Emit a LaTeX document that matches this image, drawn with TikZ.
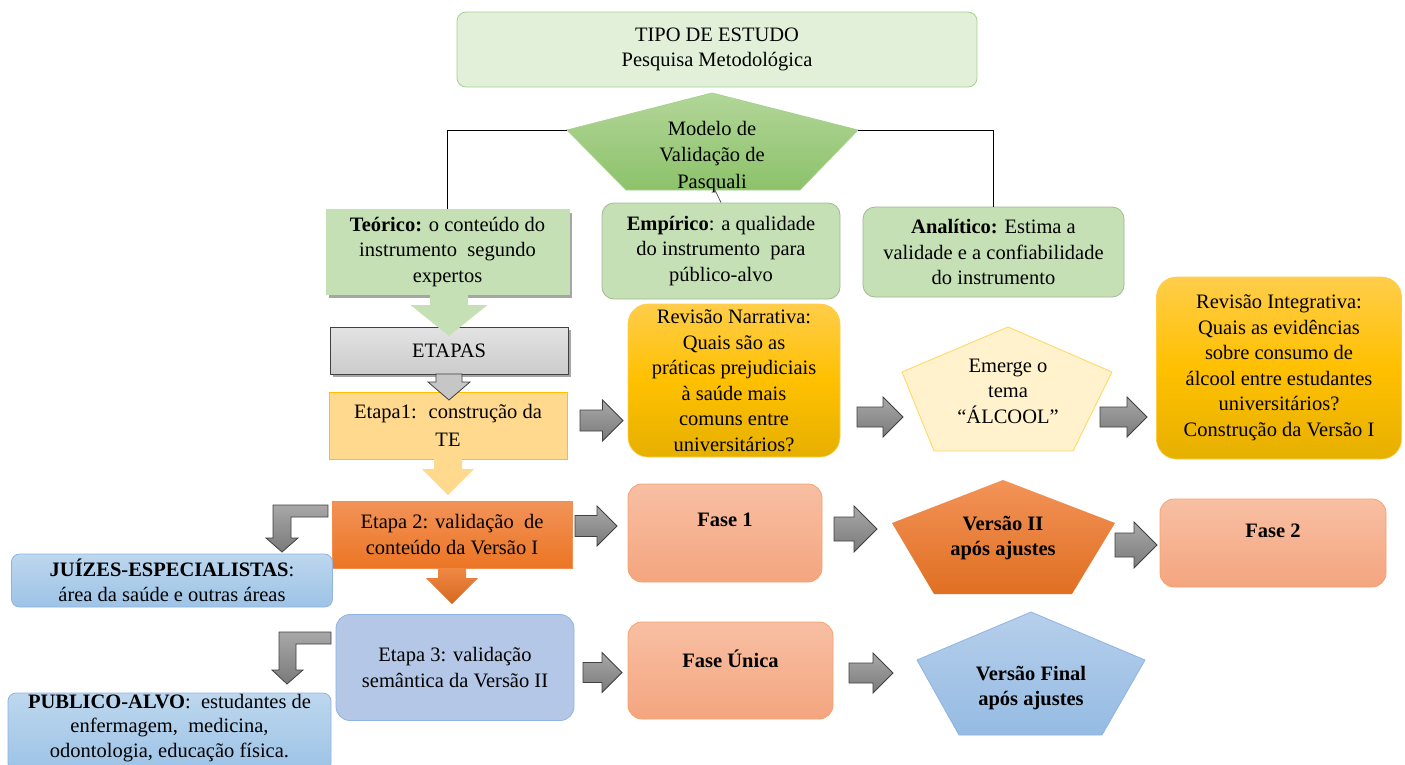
\documentclass[tikz,border=0pt]{standalone}
\usepackage{fontspec}
\setmainfont{Liberation Serif}
\usetikzlibrary{shadows}
\definecolor{tipoF}{HTML}{E2F0D9}
\definecolor{tipoD}{HTML}{A9D18E}
\definecolor{gF}{HTML}{C5E0B4}
\definecolor{gD}{HTML}{A3B896}
\definecolor{pgT}{HTML}{B2D698}
\definecolor{pgB}{HTML}{8CC26A}
\definecolor{yF}{HTML}{FFD98E}
\definecolor{yD}{HTML}{FFC000}
\definecolor{oT}{HTML}{F29358}
\definecolor{oB}{HTML}{EC7524}
\definecolor{bF}{HTML}{B4C7E7}
\definecolor{bD}{HTML}{8FB4E3}
\definecolor{lbT}{HTML}{BDD7EE}
\definecolor{lbB}{HTML}{9DC3E6}
\definecolor{goT}{HTML}{FFCD4A}
\definecolor{goM}{HTML}{FFC000}
\definecolor{goB}{HTML}{E6B000}
\definecolor{crF}{HTML}{FFF2CC}
\definecolor{crD}{HTML}{FFD966}
\definecolor{fT}{HTML}{F8BFA3}
\definecolor{fB}{HTML}{F4A57F}
\definecolor{fD}{HTML}{F4A36F}
\definecolor{vfT}{HTML}{B6CFEB}
\definecolor{vfB}{HTML}{95BBE3}
\definecolor{arT}{HTML}{A8A8A8}
\definecolor{arB}{HTML}{7A7A7A}
\definecolor{arD}{HTML}{404040}
\newcommand\BlockR[6]{\draw[#1] (#2,#3-#5) -- (#4-#6,#3-#5) -- (#4-#6,#3-#6) -- (#4,#3) -- (#4-#6,#3+#6) -- (#4-#6,#3+#5) -- (#2,#3+#5) -- cycle;}
\newcommand\BlockD[7]{\draw[#1] (#2-#5,#3) -- (#2+#5,#3) -- (#2+#5,#4-#7) -- (#2+#6,#4-#7) -- (#2,#4) -- (#2-#6,#4-#7) -- (#2-#5,#4-#7) -- cycle;}
\tikzset{
  txt/.style={font=\fontsize{20.5}{25.5}\selectfont, align=center, inner sep=0pt, text=black},
  btxt/.style={txt, font=\fontsize{20.5}{25}\selectfont\bfseries},
  tipobox/.style={txt, draw=tipoD, fill=tipoF, rounded corners=9pt, line width=0.8pt},
  gbox/.style={txt, fill=gF, draw=gF},
  grbox/.style={txt, fill=gF, draw=gD, rounded corners=12pt, line width=0.8pt},
  etapasbox/.style={txt, top color=gray!22, bottom color=gray!40, draw=arD, line width=0.9pt},
  e1box/.style={txt, fill=yF, draw=yD, line width=0.6pt},
  e2box/.style={txt, top color=oT, bottom color=oB, draw=oT!80!oB},
  e3box/.style={txt, fill=bF, draw=bD, rounded corners=14pt, line width=0.8pt},
  lbbox/.style={txt, top color=lbT, bottom color=lbB, draw=bD, rounded corners=8pt, line width=0.8pt},
  gobox/.style={txt, top color=goT, bottom color=goB, middle color=goM, draw=goT, rounded corners=20pt, line width=0.6pt},
  fbox/.style={txt, top color=fT, bottom color=fB, draw=fD, rounded corners=14pt, line width=0.8pt},
  conn/.style={draw=black, line width=0.9pt},
  grayarr/.style={top color=arT, bottom color=arB, draw=arD, line width=0.8pt},
  shad/.style={drop shadow={shadow xshift=3pt, shadow yshift=-3pt, opacity=0.35, fill=black}},
}
\begin{document}
\begin{tikzpicture}[x=1pt,y=-1pt]
\useasboundingbox (0,0) rectangle (1405,764);
\fill[white] (0,0) rectangle (1405,764);
\clip (0,0) rectangle (1405,764);

% top
\node[tipobox, minimum width=520pt, minimum height=75pt] (tipo) at (717,49.5) {TIPO DE ESTUDO\\Pesquisa Metodológica};

\draw[top color=pgT, bottom color=pgB, draw=tipoD, line width=0.8pt]
  (712,93) coordinate (mT) -- (858,130) coordinate (mR) -- (800,190) coordinate (mBR)
  -- (626,190) coordinate (mBL) -- (567,130) coordinate (mL) -- cycle;
\node[txt, font=\fontsize{20.5}{26.5}\selectfont] (modelo) at (712,157) {Modelo de\\Validação de\\Pasquali};

\node[gbox, shad, minimum width=243pt, minimum height=85pt] (teo) at (447.5,252)
  {\textbf{Teórico:} o conteúdo do\\instrumento~ segundo\\expertos};
\node[grbox, minimum width=238pt, minimum height=96pt] (emp) at (721,251)
  {\textbf{Empírico}: a qualidade\\do instrumento~ para\\público-alvo};
\node[grbox, minimum width=261pt, minimum height=90pt] (ana) at (993.5,252)
  {\textbf{Analítico:} Estima a\\validade e a confiabilidade\\do instrumento};

\draw[conn] (mL) -| (teo.north);
\draw[conn] (mR) -| (ana.north);
\coordinate (mB) at (715,190);
\draw[line width=0.7pt, black!70] (mB) -- (emp.north);

% left column
\node[etapasbox, shad, minimum width=238pt, minimum height=47pt] (etapas) at (449,350.5) {ETAPAS};
\BlockD{fill=gF, draw=none}{449}{295}{336}{19}{38.5}{31}
\node[e1box, minimum width=238pt, minimum height=67pt] (e1) at (448,425.5) {Etapa1:~ construção da\\[2pt]TE};
\BlockD{fill=gray!45, draw=arD, line width=0.8pt}{449}{374}{400}{13}{21}{18}
\node[e2box, minimum width=240pt, minimum height=67pt] (e2) at (452,534.5) {Etapa 2: validação~ de\\conteúdo da Versão I};
\BlockD{fill=yF, draw=none}{448}{459}{495}{14}{26}{26}
\node[e3box, minimum width=238pt, minimum height=106pt] (e3) at (455,667.5) {Etapa 3: validação\\semântica da Versão II};
\BlockD{top color=oT!60!oB, bottom color=oB!90!black, draw=none}{452}{568}{604}{14}{26}{26}

\node[lbbox, minimum width=321pt, minimum height=53pt] (juizes) at (172,580.5)
  {\textbf{JUÍZES-ESPECIALISTAS}:\\área da saúde e outras áreas};
\node[lbbox, font=\fontsize{20.5}{24.5}\selectfont, minimum width=323pt, minimum height=78pt] (publico) at (169.5,732) {};
\node[txt, font=\fontsize{20.5}{24.5}\selectfont] (publicot) at (169.5,728)
  {\textbf{PUBLICO-ALVO}:~ estudantes de\\enfermagem,~ medicina,\\odontologia, educação física.};

\draw[grayarr] (328,505) -- (273,505) -- (273,538) -- (266,538) -- (282,552) -- (298,538) -- (291,538) -- (291,517) -- (328,517) -- cycle;
\draw[grayarr] (331,632) -- (279,632) -- (279,670) -- (272,670) -- (287,684) -- (303,670) -- (296,670) -- (296,644) -- (331,644) -- cycle;

% row 1 right
\node[gobox, minimum width=212pt, minimum height=153pt] (narr) at (734,380.5)
  {Revisão Narrativa:\\Quais são as\\práticas prejudiciais\\à saúde mais\\comuns entre\\universitários?};
\draw[fill=crF, draw=crD, line width=0.9pt]
  (1008,327) coordinate (eT) -- (1112,372) coordinate (eR) -- (1073,451) coordinate (eBR)
  -- (934,451) coordinate (eBL) -- (902,372) coordinate (eL) -- cycle;
\node[txt] (emerge) at (1008,391) {Emerge o\\tema\\“ÁLCOOL”};
\node[gobox, minimum width=245pt, minimum height=182pt] (integ) at (1279,368)
  {Revisão Integrativa:\\Quais as evidências\\sobre consumo de\\álcool entre estudantes\\universitários?\\Construção da Versão I};

% row 2 right
\node[fbox, minimum width=194pt, minimum height=98pt] (f1) at (725,533) {};
\node[btxt] (f1t) at (725,520) {Fase 1};
\draw[top color=oT, bottom color=oB!95!black, draw=none]
  (1003,480) coordinate (v2T) -- (1115,523) coordinate (v2R) -- (1072,594) coordinate (v2BR)
  -- (934,594) coordinate (v2BL) -- (892,523) coordinate (v2L) -- cycle;
\node[btxt] (v2) at (1003,538.5) {Versão II\\após ajustes};
\node[fbox, minimum width=226pt, minimum height=88pt] (f2) at (1273,543) {};
\node[btxt] (f2t) at (1273,531) {Fase 2};

% row 3 right
\node[fbox, minimum width=205pt, minimum height=97pt] (fu) at (730.5,670.5) {};
\node[btxt] (fut) at (730.5,659) {Fase Única};
\draw[top color=vfT, bottom color=vfB, draw=bD, line width=0.8pt]
  (1031,612) coordinate (vfTp) -- (1145,660) coordinate (vfR) -- (1102,735) coordinate (vfBR)
  -- (959,735) coordinate (vfBL) -- (917,660) coordinate (vfL) -- cycle;
\node[btxt] (vf) at (1031,688.5) {Versão Final\\após ajustes};

% gray block arrows
\BlockR{grayarr}{580}{420.5}{623}{10.5}{20.5}
\BlockR{grayarr}{575}{526}{617}{10.5}{20}
\BlockR{grayarr}{583}{672.5}{622}{10}{20}
\BlockR{grayarr}{857}{417}{903}{10}{20}
\BlockR{grayarr}{1100}{417}{1147}{10}{20}
\BlockR{grayarr}{834}{529}{877}{12}{23}
\BlockR{grayarr}{1115}{545}{1157}{12}{23}
\BlockR{grayarr}{849}{673}{893}{10}{20}
\end{tikzpicture}
\end{document}
